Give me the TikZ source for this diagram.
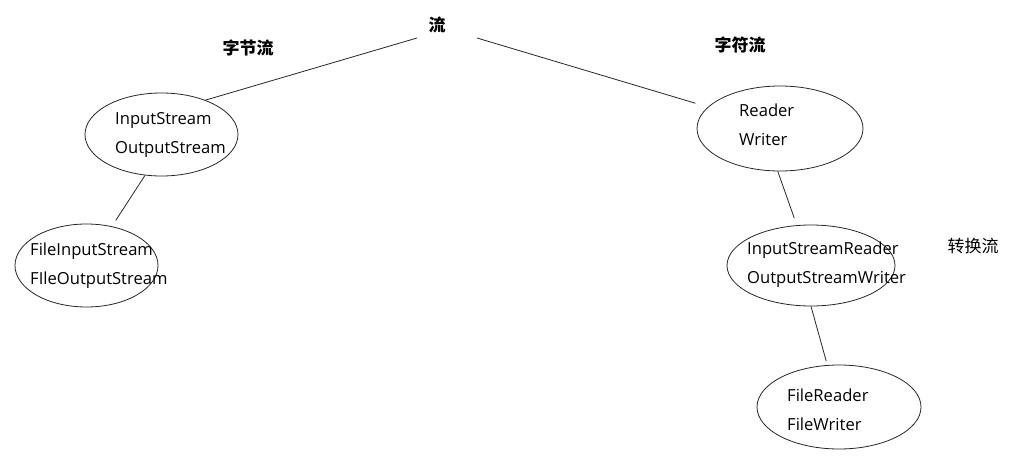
\documentclass[tikz,border=0pt]{standalone}
\usepackage{fontspec}
\setmainfont{Open Sans}
\newfontfamily\cjk{Noto Sans CJK SC}
\usetikzlibrary{shapes.geometric,positioning}
\tikzset{stream/.style={draw=black!85, line width=0.8pt, ellipse, inner sep=0pt}}
\tikzset{names/.style={align=left, anchor=west, inner sep=0pt,
    font=\fontsize{16.6}{29}\selectfont}}
\tikzset{kind/.style={inner sep=0pt, font=\cjk\bfseries\fontsize{17}{20}\selectfont}}
\tikzset{branch/.style={draw=black!85, line width=0.8pt}}

\begin{document}
\begin{tikzpicture}[x=1pt,y=-1pt]
  \useasboundingbox (0,0) rectangle (1025,473);
  % root and the two kinds
  \node[kind] (root) at (437,25) {流};
  \coordinate (rootL) at (417,38);
  \coordinate (rootR) at (477,38);
  \node[kind] (bytes) at (248,48) {字节流};
  \node[kind] (chars) at (740,45) {字符流};
  \node[inner sep=0pt, font=\cjk\fontsize{17}{20}\selectfont] (convert) at (973,246) {转换流};
  % ellipses
  \node[stream, minimum width=153, minimum height=83] (istream) at (161.5,134.5) {};
  \node[stream, minimum width=143, minimum height=83] (fstream) at (86.5,265.5) {};
  \node[stream, minimum width=166, minimum height=85] (rw) at (780,128.5) {};
  \node[stream, minimum width=168, minimum height=81] (isr) at (811,265.5) {};
  \node[stream, minimum width=164, minimum height=84] (frw) at (839,407) {};
  % class names
  \node[names] (istreamtxt) at (115,135) {InputStream\\OutputStream};
  \node[names] (fstreamtxt) at (30,266) {FileInputStream\\FIleOutputStream};
  \node[names] (rwtxt) at (739,125) {Reader\\Writer};
  \node[names] (isrtxt) at (747,264.5) {InputStreamReader\\OutputStreamWriter};
  \node[names] (frwtxt) at (787,410) {FileReader\\FileWriter};
  % branches
  \draw[branch] (rootL) -- (istream.38);
  \draw[branch, shorten >=13pt] (rootR) -- (rw);
  \draw[branch, shorten >=7pt] (istream.248) -- (fstream);
  \draw[branch, shorten >=7.5pt] (rw.267) -- (isr);
  \draw[branch, shorten >=4pt] (isr.270) -- (frw);
\end{tikzpicture}
\end{document}
